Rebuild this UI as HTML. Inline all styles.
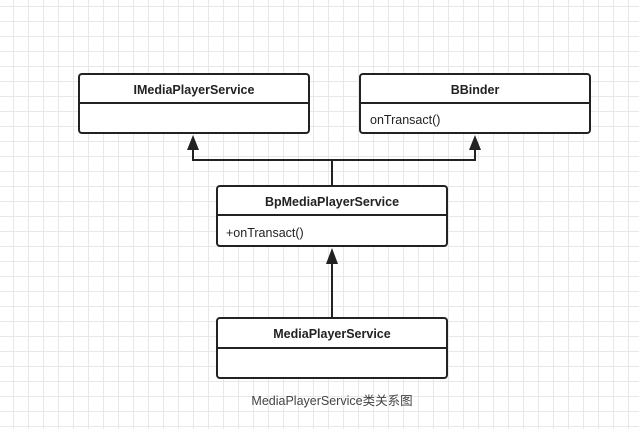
<!DOCTYPE html>
<html><head><style>
body{margin:0;width:639px;height:429px;overflow:hidden;background:#fff;
background-image:linear-gradient(#e8e8e8 1px,transparent 1px),linear-gradient(90deg,#e8e8e8 1px,transparent 1px);
background-size:15px 15px;background-position:0 6px,13px 0;font-family:"Liberation Sans","Noto Sans CJK SC",sans-serif;}
</style></head><body>
<svg width="639" height="429" style="position:absolute;left:0;top:0" font-family="Liberation Sans, Noto Sans CJK SC, sans-serif">
<g fill="#fff" stroke="#222" stroke-width="2">
<rect x="79" y="74" width="230" height="59" rx="3"/>
<line x1="79" y1="103" x2="309" y2="103"/>
<rect x="360" y="74" width="230" height="59" rx="3"/>
<line x1="360" y1="103" x2="590" y2="103"/>
<rect x="217" y="186" width="230" height="60" rx="3"/>
<line x1="217" y1="215" x2="447" y2="215"/>
<rect x="217" y="318" width="230" height="60" rx="3"/>
<line x1="217" y1="348" x2="447" y2="348"/>
</g>
<g stroke="#222" stroke-width="2" fill="none">
<polyline points="193,148 193,160 475,160 475,148"/>
<line x1="332" y1="160" x2="332" y2="186"/>
<line x1="332" y1="318" x2="332" y2="262"/>
</g>
<g fill="#222">
<polygon points="193,135 187,150 199,150"/>
<polygon points="475,135 469,150 481,150"/>
<polygon points="332,248 326,264 338,264"/>
</g>
<g font-size="12.5" fill="#222" font-weight="bold" text-anchor="middle">
<text x="194" y="94">IMediaPlayerService</text>
<text x="475" y="94">BBinder</text>
<text x="332" y="206">BpMediaPlayerService</text>
<text x="332" y="338">MediaPlayerService</text>
</g>
<g font-size="12.5" fill="#222">
<text x="370" y="124">onTransact()</text>
<text x="226" y="237">+onTransact()</text>
</g>
<text x="332" y="405" font-size="12.5" fill="#444" text-anchor="middle">MediaPlayerService类关系图</text>
</svg>
</body></html>
